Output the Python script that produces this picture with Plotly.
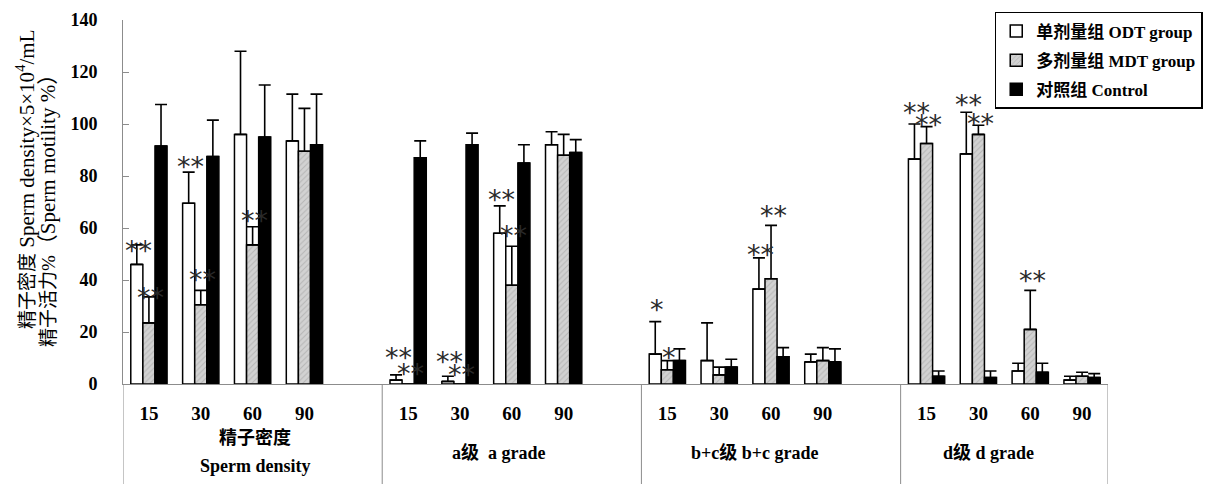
import plotly.graph_objects as go

doses = ["15", "30", "60", "90"]
groups = ["精子密度<br>Sperm density", "a级  a grade", "b+c级 b+c grade", "d级 d grade"]
series_names = ["单剂量组 ODT group", "多剂量组 MDT group", "对照组 Control"]
# y-axis title: (CJK part, Latin part) for each of the two lines
y_title_lines = [("精子密度", " Sperm density×5×10<sup>4</sup>/mL"), ("精子活力%", "（Sperm motility %）")]

odt = [46, 69.5, 96, 93.5, 1.5, 1, 58, 92, 11.5, 9, 36.5, 8.5, 86.5, 88.5, 5, 1.5]
odt_err = [7.5, 12, 32, 18, 2, 2, 10.5, 5, 12.5, 14.5, 12, 3, 13.5, 16, 3, 1.5]
mdt = [23.5, 30.5, 53.5, 89.5, 0, 0, 38, 88, 5.5, 3.5, 40.5, 9, 92.5, 96, 21, 3]
mdt_err = [10, 5.5, 7, 16.5, 0, 0, 15, 8, 3.5, 3, 20.5, 5, 6.5, 3.5, 15, 1.5]
ctl = [91.5, 87.5, 95, 92, 87, 92, 85, 89, 9, 6.5, 10.5, 8.5, 3, 2.5, 4.5, 2.5]
ctl_err = [16, 14, 20, 19.5, 6.5, 4.5, 7, 5, 4.5, 3, 3.5, 5, 2, 2.5, 3.5, 1.5]

# significance marks: (bar index, series index, text, vertical shift above cap in px)
marks = [
    (0, 0, "**", 2), (0, 1, "**", 7), (1, 0, "**", 14), (1, 1, "**", 19), (2, 1, "**", 14),
    (4, 0, "**", 25), (4, 1, "**", 19), (5, 0, "**", 23), (5, 1, "**", 18),
    (6, 0, "**", 14), (6, 1, "**", 19),
    (8, 0, "*", 20), (8, 1, "*", 11), (10, 0, "**", 11), (10, 1, "**", 18),
    (12, 0, "**", 20), (12, 1, "**", 10), (13, 0, "**", 16), (13, 1, "**", 10),
    (14, 1, "**", 18),
]

slots = [g * 5 + d for g in range(len(groups)) for d in range(len(doses))]
tick_text = [doses[i % 4] for i in range(len(slots))]

values = [odt, mdt, ctl]
errors = [odt_err, mdt_err, ctl_err]

SERIF = "'Liberation Serif', 'Noto Sans CJK SC', serif"

# page is rendered with an 8px body margin, so the figure is 8px smaller
W, H = 1210, 476
L, R, T, B = 115, 110, 12, 100
PH = H - T - B

fig = go.Figure()
styles = [
    dict(color="white", line=dict(color="black", width=1.5)),
    dict(color="#d2d2d2", line=dict(color="black", width=1.5),
         pattern=dict(shape="/", fgcolor="#9a9a9a", bgcolor="#d2d2d2", size=4, solidity=0.25)),
    dict(color="black", line=dict(color="black", width=1.5)),
]
for s in range(3):
    fig.add_trace(go.Bar(
        x=slots, y=values[s], name=series_names[s], marker=styles[s], legendgroup=str(s),
        error_y=dict(type="data", symmetric=False, array=errors[s],
                     arrayminus=[0] * len(slots), color="black", thickness=1.6, width=6),
    ))

bargap = 0.3
bw = (1 - bargap) / 3
for idx, s, txt, sh in marks:
    fig.add_annotation(
        x=slots[idx] + (s - 1) * bw, y=values[s][idx] + errors[s][idx],
        text=txt, showarrow=False, yanchor="middle", yshift=sh - 8, xshift=2,
        font=dict(family="DejaVu Sans", size=27, color="#2a2a2a"),
    )

# group labels (centre of text block at 68px below the axis)
group_x = [2.05, 6.75, 11.7, 16.2]
for gx, gl in zip(group_x, groups):
    lines = gl.split("<br>")
    n = len(lines)
    for k, line in enumerate(lines):
        yc = 68 + (k - (n - 1) / 2) * 28
        fig.add_annotation(x=gx, y=-yc / PH, xref="x", yref="paper", text=line, showarrow=False,
                           yanchor="middle",
                           font=dict(family=SERIF, size=18, color="black", weight="bold"))

# y axis title as two rotated lines
for k, (cjk, latin) in enumerate(y_title_lines):
    fig.add_annotation(x=0, y=[0.563, 0.489][k], xref="paper", yref="paper",
                       xshift=[-98, -75][k],
                       text=cjk + '<span style="font-size:21px">' + latin + '</span>',
                       textangle=-90, showarrow=False,
                       xanchor="center", yanchor="middle",
                       font=dict(family=SERIF, size=19, color="black"))

# separators below the axis
for xv in [-0.5, 4.5, 9.5, 14.5, 18.5]:
    fig.add_shape(type="line", xref="x", yref="paper", x0=xv, x1=xv, y0=0, y1=-0.3,
                  line=dict(color="#8c8c8c", width=1))

fig.update_layout(
    width=W, height=H,
    margin=dict(l=L, r=R, t=T, b=B, autoexpand=False),
    paper_bgcolor="white", plot_bgcolor="white",
    barmode="group", bargap=bargap, bargroupgap=0,
    showlegend=True,
    legend=dict(x=0.885, y=1.022, xanchor="left", yanchor="top",
                bordercolor="black", borderwidth=1.5, bgcolor="white",
                font=dict(family=SERIF, size=17, color="black", weight="bold"),
                tracegroupgap=4, itemwidth=30, traceorder="grouped"),
    xaxis=dict(range=[-0.5, 18.5], tickvals=slots, ticktext=tick_text,
               showline=True, linecolor="#8c8c8c", linewidth=1, ticks="",
               showgrid=False, zeroline=False, ticklabelstandoff=12,
               tickfont=dict(family="Liberation Serif", size=19, color="black", weight="bold")),
    yaxis=dict(range=[0, 140], tickvals=list(range(0, 141, 20)),
               showline=True, linecolor="#8c8c8c", linewidth=1,
               ticks="inside", ticklen=6, tickcolor="#8c8c8c",
               showgrid=False, zeroline=False, ticklabelstandoff=21,
               tickfont=dict(family="Liberation Serif", size=18, color="black", weight="bold")),
)

fig.write_html("out.html")
